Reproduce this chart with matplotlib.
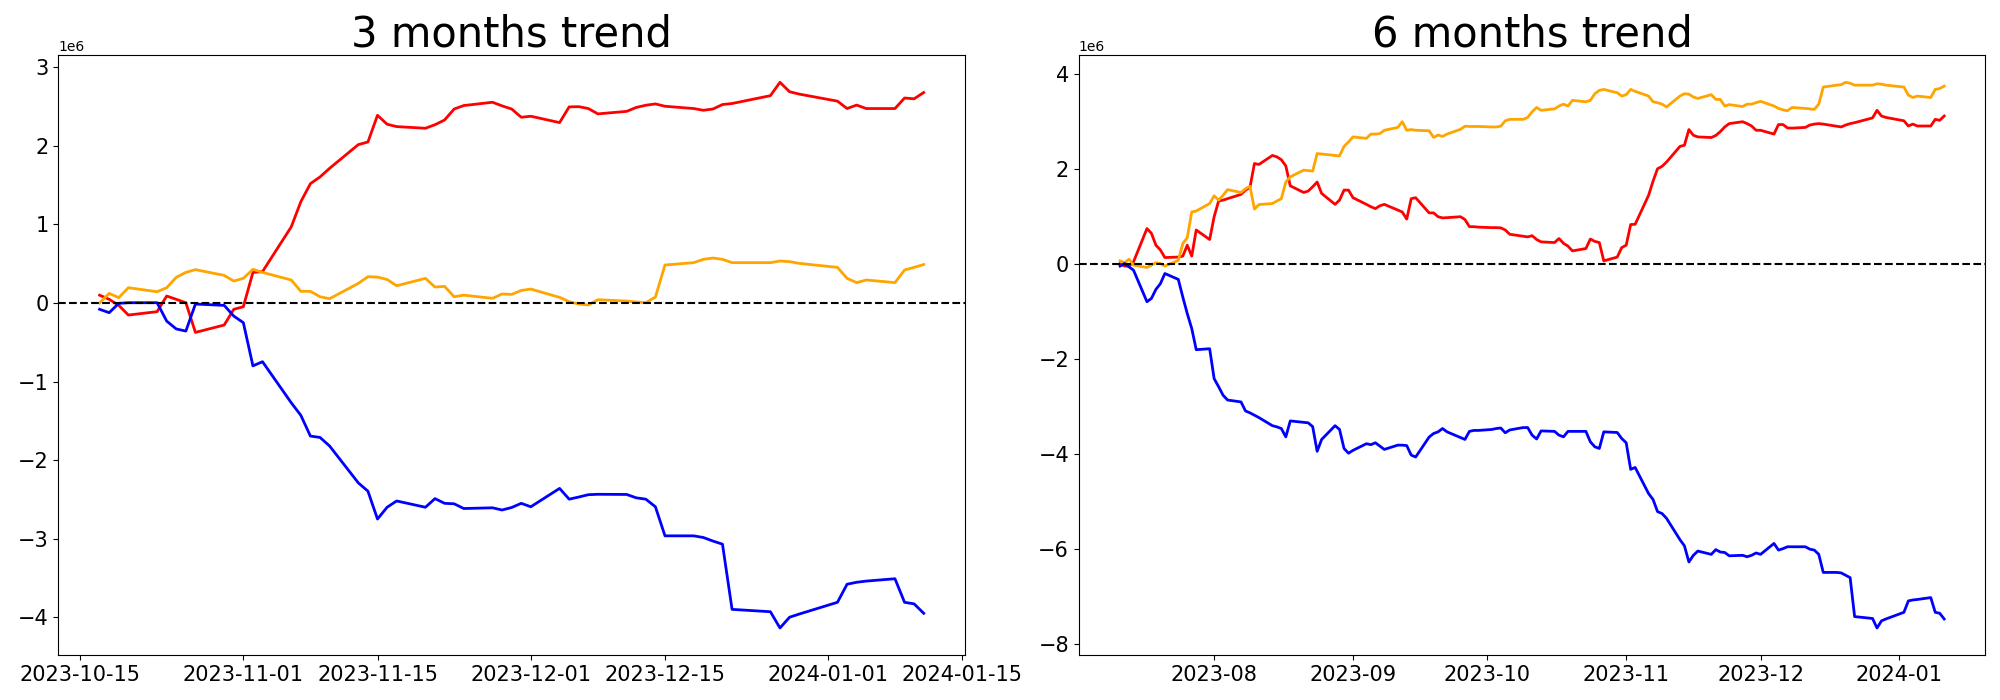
#!/usr/bin/env python
# -*- coding: utf-8 -*-
"""3 and 6 months trend charts."""
import numpy as np
import pandas as pd
import matplotlib
matplotlib.use("Agg")
import matplotlib.pyplot as plt

HOLIDAYS = ['2023-12-25', '2024-01-01']

# trading days of each window
dates_3m = pd.bdate_range('2023-10-17', '2024-01-11', freq='C', holidays=HOLIDAYS)
dates_6m = pd.bdate_range('2023-07-11', '2024-01-11', freq='C', holidays=HOLIDAYS)

# values in millions (3 months)
red_3m = [0.10, 0.047, -0.03, -0.153, -0.11, 0.089, 0.047, 0.004, -0.374, -0.28, -0.08,
          -0.047, 0.39, 0.40, 0.97, 1.29, 1.52, 1.605, 1.715, 2.017, 2.05, 2.39, 2.276, 2.246,
          2.225, 2.27, 2.33, 2.47, 2.514, 2.556, 2.51, 2.47, 2.365,
          2.378, 2.297, 2.497, 2.50, 2.476, 2.408, 2.44, 2.49, 2.518, 2.535, 2.505, 2.476,
          2.454, 2.47, 2.527, 2.54, 2.64, 2.81, 2.69, 2.66,
          2.57, 2.476, 2.52, 2.476, 2.476, 2.61, 2.60, 2.68]
orange_3m = [0.0, 0.123, 0.068, 0.195, 0.144, 0.195, 0.327, 0.39, 0.425, 0.352, 0.28,
             0.314, 0.429, 0.39, 0.293, 0.149, 0.149, 0.08, 0.055, 0.25, 0.335, 0.33, 0.30, 0.22,
             0.314, 0.204, 0.212, 0.08, 0.10, 0.06, 0.115, 0.11, 0.16,
             0.178, 0.072, 0.017, -0.013, -0.025, 0.042, 0.025, 0.013, 0.004, 0.076, 0.484, 0.514,
             0.556, 0.573, 0.556, 0.514, 0.514, 0.535, 0.527, 0.505,
             0.454, 0.314, 0.26, 0.293, 0.26, 0.42, 0.454, 0.49]
blue_3m = [-0.08, -0.123, -0.004, 0.004, 0.004, -0.23, -0.33, -0.357, -0.013, -0.03, -0.166,
           -0.25, -0.80, -0.747, -1.27, -1.43, -1.694, -1.711, -1.82, -2.29, -2.395, -2.75, -2.60, -2.52,
           -2.60, -2.49, -2.55, -2.556, -2.616, -2.607, -2.635, -2.603, -2.55,
           -2.594, -2.36, -2.497, -2.47, -2.44, -2.435, -2.437, -2.48, -2.497, -2.594, -2.964, -2.964,
           -2.985, -3.03, -3.07, -3.90, -3.93, -4.137, -4.0, -3.96,
           -3.81, -3.58, -3.555, -3.54, -3.51, -3.81, -3.83, -3.95]

# values in millions (6 months)
red_6m = [0.01, -0.04, -0.04, 0.05, 0.75, 0.65, 0.40, 0.30, 0.14, 0.15, 0.17, 0.40, 0.17, 0.72, 0.52,
          1.0, 1.33, 1.35, 1.38, 1.47, 1.56, 1.62, 2.12, 2.10, 2.29, 2.26, 2.20, 2.07, 1.65,
          1.51, 1.54, 1.63, 1.73, 1.49, 1.26, 1.35, 1.56, 1.56,
          1.40, 1.26, 1.21, 1.17, 1.23, 1.26, 1.14, 1.10, 0.95, 1.38, 1.40, 1.08, 1.08, 1.00,
          0.975, 0.98, 1.00, 0.94, 0.79, 0.79, 0.78,
          0.77, 0.77, 0.765, 0.72, 0.63, 0.59, 0.575, 0.60, 0.52, 0.47, 0.456, 0.54, 0.44,
          0.38, 0.28, 0.33, 0.53, 0.48, 0.456, 0.07, 0.15, 0.35,
          0.40, 0.835, 0.84, 1.45, 1.75, 2.01, 2.06, 2.15, 2.48, 2.505, 2.835, 2.715, 2.68,
          2.667, 2.71, 2.79, 2.89, 2.96, 3.0, 2.96, 2.91, 2.82,
          2.82, 2.74, 2.94, 2.94, 2.87, 2.865, 2.88, 2.93, 2.95, 2.96, 2.95, 2.905, 2.89,
          2.93, 2.96, 2.98, 3.08, 3.24, 3.12, 3.09,
          3.02, 2.91, 2.95, 2.91, 2.91, 3.05, 3.03, 3.12]
orange_6m = [0.07, 0.03, 0.105, -0.02, -0.07, -0.02, 0.03, 0.014, -0.04, 0.08, 0.435, 0.56, 1.10, 1.12, 1.277,
             1.44, 1.35, 1.45, 1.57, 1.51, 1.59, 1.64, 1.16, 1.256, 1.277, 1.33, 1.38, 1.73, 1.84,
             1.98, 1.97, 1.96, 2.33, 2.32, 2.29, 2.28, 2.48, 2.575,
             2.68, 2.65, 2.74, 2.74, 2.75, 2.82, 2.88, 3.0, 2.82, 2.835, 2.82, 2.81, 2.67, 2.72,
             2.69, 2.74, 2.84, 2.905, 2.90, 2.90, 2.90,
             2.89, 2.89, 2.905, 3.02, 3.05, 3.05, 3.09, 3.21, 3.30, 3.24, 3.27, 3.33, 3.37,
             3.33, 3.45, 3.42, 3.45, 3.59, 3.66, 3.68, 3.61, 3.54,
             3.57, 3.68, 3.64, 3.54, 3.42, 3.40, 3.37, 3.31, 3.54, 3.59, 3.58, 3.52, 3.49,
             3.57, 3.47, 3.47, 3.33, 3.36, 3.32, 3.37, 3.37, 3.40,
             3.43, 3.33, 3.28, 3.25, 3.23, 3.30, 3.28, 3.27, 3.26, 3.37, 3.73, 3.77, 3.78,
             3.83, 3.81, 3.77, 3.77, 3.80, 3.79, 3.77,
             3.73, 3.56, 3.51, 3.54, 3.51, 3.68, 3.70, 3.75]
blue_6m = [-0.04, 0.014, -0.056, -0.126, -0.79, -0.72, -0.53, -0.41, -0.196, -0.32, -0.69, -1.04, -1.354,
           -1.80, -1.78,
           -2.41, -2.58, -2.76, -2.86, -2.90, -3.09, -3.13, -3.18, -3.23, -3.40, -3.425, -3.46, -3.636,
           -3.30, -3.33, -3.34, -3.42, -3.94, -3.69, -3.40, -3.48, -3.88, -3.98,
           -3.92, -3.78, -3.80, -3.76, -3.83, -3.90, -3.81, -3.81, -3.82, -4.02, -4.06, -3.64, -3.565,
           -3.53, -3.46, -3.53, -3.65, -3.69, -3.52, -3.50, -3.50,
           -3.48, -3.46, -3.45, -3.55, -3.49, -3.44, -3.44, -3.60, -3.68, -3.51, -3.52, -3.60, -3.635,
           -3.52, -3.52, -3.52, -3.74, -3.845, -3.88, -3.53, -3.544, -3.67,
           -3.76, -4.32, -4.28, -4.83, -4.955, -5.21, -5.25, -5.35, -5.80, -5.93, -6.27, -6.13, -6.04,
           -6.11, -6.01, -6.06, -6.07, -6.14, -6.13, -6.16, -6.13, -6.08,
           -6.11, -5.88, -6.02, -5.99, -5.95, -5.95, -5.95, -6.0, -6.02, -6.11, -6.49, -6.49, -6.50,
           -6.55, -6.60, -7.42, -7.46, -7.66, -7.51, -7.47,
           -7.33, -7.09, -7.07, -7.06, -7.02, -7.33, -7.35, -7.47]


def draw_trend(ax, dates, red, orange, blue, title):
    """Draw one trend panel."""
    ax.plot(dates, np.array(red) * 1e6, color='red', linewidth=2)
    ax.plot(dates, np.array(orange) * 1e6, color='orange', linewidth=2)
    ax.plot(dates, np.array(blue) * 1e6, color='blue', linewidth=2)
    ax.axhline(0, color='black', linestyle='--', linewidth=1.5)
    ax.set_title(title, fontsize=30)
    ax.tick_params(labelsize=15)


def main():
    """Run main."""
    fig, axes = plt.subplots(1, 2, figsize=(20, 7), dpi=100)
    draw_trend(axes[0], dates_3m, red_3m, orange_3m, blue_3m, '3 months trend')
    draw_trend(axes[1], dates_6m, red_6m, orange_6m, blue_6m, '6 months trend')
    fig.subplots_adjust(left=0.0292, right=0.9927, bottom=0.0639, top=0.9214, wspace=0.1257)
    fig.savefig('out.png')


if __name__ == '__main__':
    main()
